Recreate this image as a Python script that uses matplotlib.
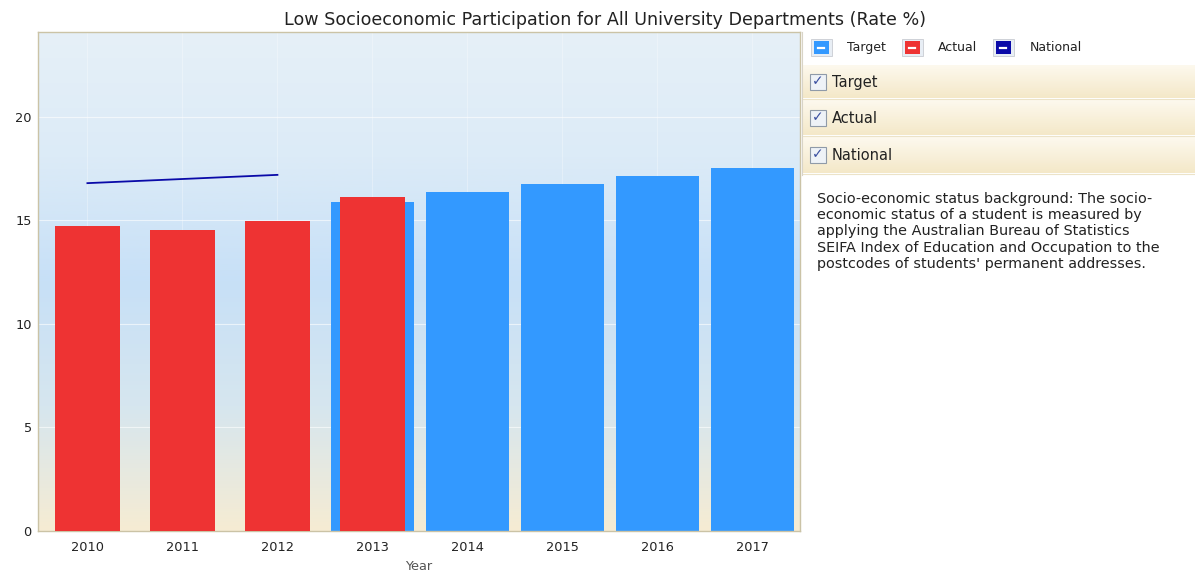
import matplotlib.pyplot as plt
import numpy as np
from matplotlib.colors import LinearSegmentedColormap
from matplotlib.patches import Rectangle

years = ['2010', '2011', '2012', '2013', '2014', '2015', '2016', '2017']
target = [np.nan, np.nan, np.nan, 15.9, 16.35, 16.75, 17.15, 17.55]
actual = [14.75, 14.55, 14.95, 16.15, np.nan, np.nan, np.nan, np.nan]
national = [16.8, 17.0, 17.2, np.nan, np.nan, np.nan, np.nan, np.nan]

series_names = ['Target', 'Actual', 'National']
series_colors = ['#3399ff', '#ee3333', '#0a0aa8']

note_lines = ["Socio-economic status background: The socio-",
              "economic status of a student is measured by",
              "applying the Australian Bureau of Statistics",
              "SEIFA Index of Education and Occupation to the",
              "postcodes of students' permanent addresses."]

W, H = 1195, 574
fig = plt.figure(figsize=(W / 100, H / 100), dpi=100)
plt.rcParams['font.family'] = ['DejaVu Sans']

# overlay in pixel coords for the side panel
pan = fig.add_axes([0, 0, 1, 1])
pan.axis('off')

ax = fig.add_axes([38 / W, 43 / H, 762 / W, 499 / H])
x = np.arange(len(years))

# background gradient
bg = LinearSegmentedColormap.from_list('bg', ['#f6ecd3', '#d6e6ef', '#c7e0f7', '#dcebf7', '#e6f0f8'])
grad = np.linspace(0, 1, 256).reshape(-1, 1)
ax.imshow(grad, cmap=bg, aspect='auto', extent=[0, 1, 0, 1], transform=ax.transAxes,
          origin='lower', zorder=0)

for yv in [5, 10, 15, 20]:
    ax.axhline(yv, color='white', lw=0.8, alpha=0.6, zorder=1)
for xv in x:
    ax.axvline(xv, color='white', lw=0.8, alpha=0.3, zorder=1)

ax.bar(x, target, width=0.87, color=series_colors[0], zorder=2)
ax.bar(x, actual, width=0.68, color=series_colors[1], zorder=3)
ax.plot(x, national, color=series_colors[2], lw=1.3, zorder=4)

ax.set_xlim(-0.52, 7.5)
ax.set_ylim(0, 24.1)
ax.set_yticks([0, 5, 10, 15, 20])
ax.set_xticks(x)
ax.set_xticklabels(years)
ax.tick_params(length=0, labelsize=9.3, colors='#222222')
ax.tick_params(axis='x', pad=7)
ax.tick_params(axis='y', pad=4.5)
for s in ax.spines.values():
    s.set_color('#cbc3a6')
    s.set_linewidth(1)
ax.set_xlabel('Year', fontsize=9.3, color='#555555', labelpad=4.5)

fig.text(605 / W, 1 - 20 / H, 'Low Socioeconomic Participation for All University Departments (Rate %)',
         ha='center', va='center', fontsize=12.6, color='#222222')

# side panel: legend row
lx = [811, 902, 993]
tx = [847, 938, 1030]
for px, t, name, c in zip(lx, tx, series_names, series_colors):
    pan.add_patch(Rectangle((px, 39), 21, 17, facecolor='#e8eef5', edgecolor='#c8ccd2', lw=0.6))
    pan.add_patch(Rectangle((px + 3, 41), 15, 13, facecolor=c, edgecolor='none'))
    pan.plot([px + 7.5, px + 13.5], [47.5, 47.5], color='white', lw=1.6)
    pan.text(t, 47.5, name, fontsize=9, va='center', ha='left', color='#222222')

pan.plot([802, 802], [32, 175], color='#d8d4c8', lw=0.8)

# option rows with beige gradient
row_tops = [65, 100, 137]
row_bottoms = [98, 135, 173]
rowcm = LinearSegmentedColormap.from_list('row', ['#fdf9ee', '#f4e8c8'])
for top, bot, name in zip(row_tops, row_bottoms, series_names):
    pan.imshow(grad, cmap=rowcm, aspect='auto', extent=[803, W, bot, top], zorder=1)
    pan.plot([803, W], [bot + 1, bot + 1], color='#ece3c8', lw=0.8, zorder=2)
    cy = (top + bot) / 2 + 1
    pan.add_patch(Rectangle((810, cy - 9), 16, 16, facecolor='#eef2f7', edgecolor='#8f9aa8', lw=0.8, zorder=3))
    pan.text(818, cy - 1.5, '\u2713', fontsize=10, color='#3a4fa0', ha='center', va='center',
             fontweight='bold', zorder=4)
    pan.text(832, cy, name, fontsize=10.5, va='center', ha='left', color='#222222', zorder=4)

for i, line in enumerate(note_lines):
    pan.text(817, 199 + 16.2 * i, line, fontsize=10.4, va='center', ha='left', color='#222222')

pan.set_xlim(0, W)
pan.set_ylim(H, 0)

fig.savefig('out.png', dpi=100)
